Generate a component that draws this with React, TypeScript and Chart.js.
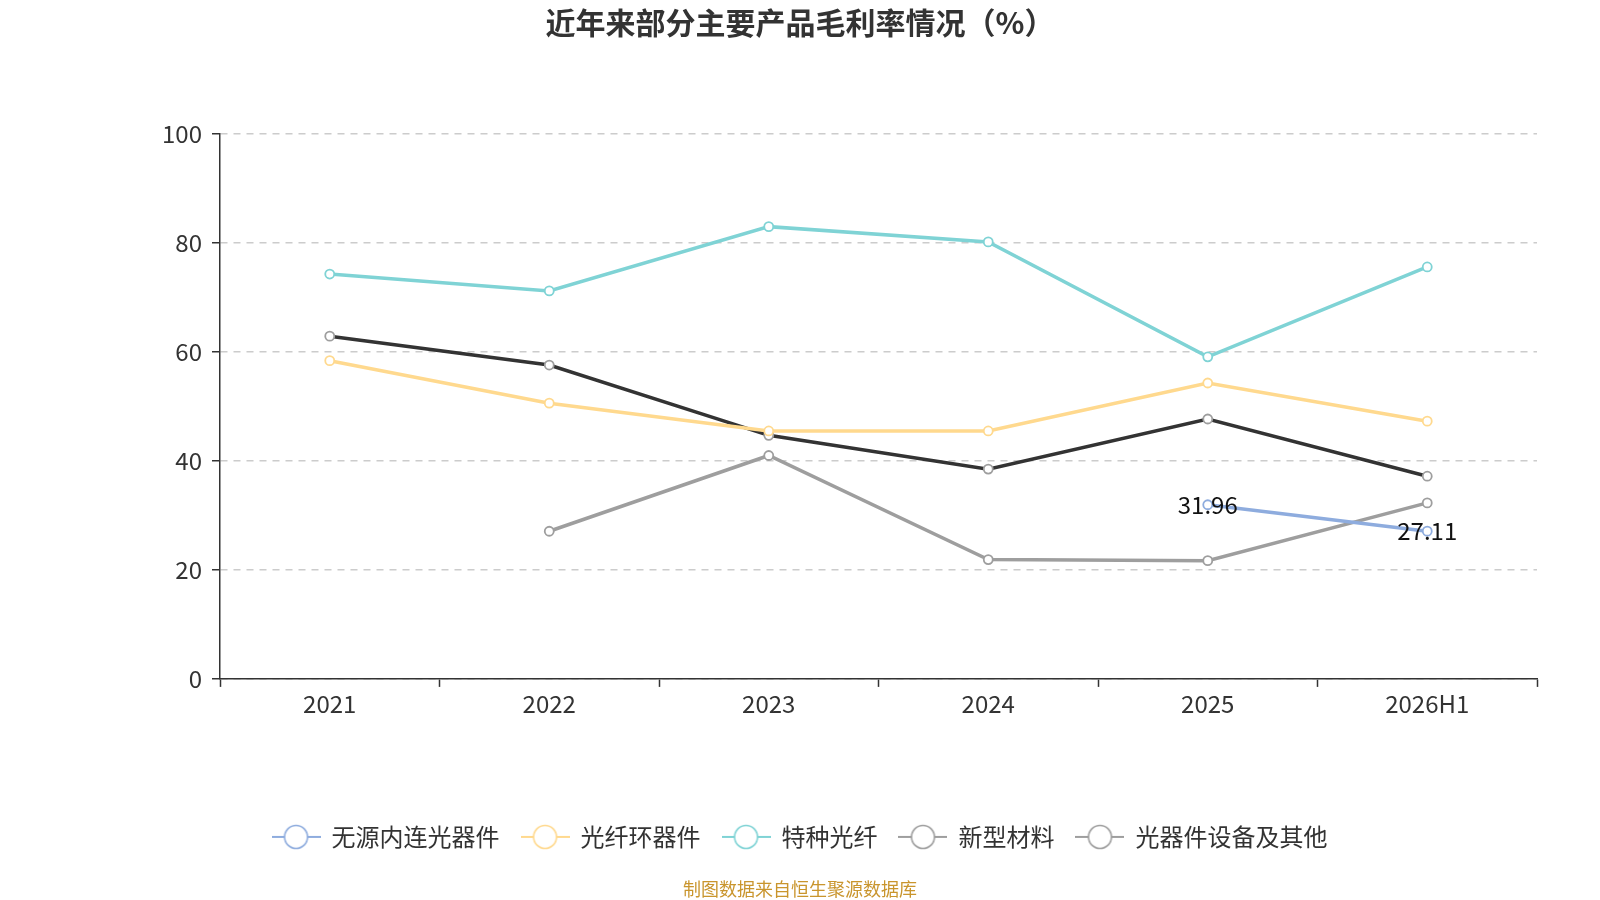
import React, { useEffect, useRef } from 'react';
import { Chart, registerables, ChartConfiguration, ChartItem } from 'chart.js';
Chart.register(...registerables);

const FONT = '"Noto Sans CJK SC", "Noto Sans", sans-serif';

const categories = ['2021', '2022', '2023', '2024', '2025', '2026H1'];
const seriesNames = ['无源内连光器件', '光纤环器件', '特种光纤', '新型材料', '光器件设备及其他'];

const passiveValues = [null, null, null, null, 31.96, 27.11];
const fiberRingValues = [58.4, 50.6, 45.5, 45.5, 54.3, 47.3];
const specialFiberValues = [74.3, 71.2, 83.0, 80.2, 59.1, 75.6];
const newMaterialValues = [62.9, 57.6, 44.7, 38.5, 47.7, 37.2];
const equipmentValues = [null, 27.1, 41.0, 21.9, 21.7, 32.3];

const yTicks = [0, 20, 40, 60, 80, 100];

const lineColors = ['#8eacde', '#ffd98e', '#7fd3d5', '#333333', '#9e9e9e'];
const pointColors = ['#8eacde', '#ffd98e', '#7fd3d5', '#9e9e9e', '#9e9e9e'];

const makeLegendIcon = (color: string) => {
  const c = document.createElement('canvas');
  c.width = 49;
  c.height = 28;
  const g = c.getContext('2d')!;
  g.strokeStyle = color;
  g.lineWidth = 2;
  g.beginPath();
  g.moveTo(0, 14);
  g.lineTo(49, 14);
  g.stroke();
  g.beginPath();
  g.arc(24.5, 14, 11.5, 0, Math.PI * 2);
  g.fillStyle = '#fff';
  g.fill();
  g.lineWidth = 1.6;
  g.stroke();
  return c;
};

const valueLabels = {
  id: 'valueLabels',
  afterDatasetsDraw(chart: Chart) {
    const ctx = chart.ctx;
    const meta = chart.getDatasetMeta(0);
    const data = chart.data.datasets[0].data as (number | null)[];
    ctx.save();
    ctx.font = `24px ${FONT}`;
    ctx.fillStyle = '#111';
    ctx.textAlign = 'center';
    ctx.textBaseline = 'middle';
    meta.data.forEach((pt, i) => {
      const v = data[i];
      if (v == null) return;
      ctx.fillText(v.toFixed(2), pt.x, pt.y);
    });
    ctx.restore();
  },
};

const App: React.FC = () => {
  const canvasRef = useRef<HTMLCanvasElement>(null);
  const chartRef = useRef<Chart | null>(null);

  useEffect(() => {
    if (!canvasRef.current) return;
    const ctx = canvasRef.current.getContext('2d');
    if (!ctx) return;
    if (chartRef.current) chartRef.current.destroy();

    const allValues = [passiveValues, fiberRingValues, specialFiberValues, newMaterialValues, equipmentValues];
    const icons = pointColors.map(makeLegendIcon);

    const config: ChartConfiguration = {
      type: 'line',
      data: {
        labels: categories,
        datasets: allValues.map((vals, i) => ({
          label: seriesNames[i],
          data: vals as any,
          borderColor: lineColors[i],
          backgroundColor: '#fff',
          pointBorderColor: pointColors[i],
          pointBackgroundColor: '#fff',
          pointRadius: 4.5,
          pointBorderWidth: 1.8,
          borderWidth: 3.5,
          tension: 0,
          spanGaps: false,
        })),
      },
      options: {
        animation: false,
        responsive: false,
        devicePixelRatio: 1,
        layout: { padding: 0 },
        scales: {
          x: {
            offset: true,
            afterFit: (scale: any) => {
              scale.height = 124;
            },
            grid: {
              offset: true,
              drawOnChartArea: false,
              tickLength: 8,
              tickColor: '#333',
              tickWidth: 1.5,
            },
            border: { color: '#333', width: 1.5 },
            ticks: { color: '#333', font: { family: FONT, size: 24 }, padding: 3 },
          },
          y: {
            min: 0,
            max: 100,
            afterFit: (scale: any) => {
              scale.width = 220;
            },
            afterBuildTicks: (scale: any) => {
              scale.ticks = yTicks.map((v) => ({ value: v }));
            },
            grid: {
              color: '#cccccc',
              lineWidth: 1.5,
              tickLength: 8,
              tickColor: '#333',
              tickWidth: 1.5,
            },
            border: { color: '#333', width: 1.5, dash: [7, 6] },
            ticks: { color: '#333', font: { family: FONT, size: 24 }, padding: 10 },
          },
          yRight: {
            position: 'right',
            display: true,
            afterFit: (scale: any) => {
              scale.width = 63;
            },
            grid: { display: false },
            border: { display: false },
            ticks: { display: false },
          },
        },
        plugins: {
          title: {
            display: true,
            text: '近年来部分主要产品毛利率情况（%）',
            color: '#333',
            font: { family: FONT, size: 30, weight: 'bold' },
            padding: { top: 4.5, bottom: 93.5 },
          },
          subtitle: {
            display: true,
            position: 'bottom',
            text: '制图数据来自恒生聚源数据库',
            color: '#c9952d',
            font: { family: FONT, size: 18 },
            padding: { top: 19.5, bottom: 0 },
          },
          legend: {
            position: 'bottom',
            labels: {
              usePointStyle: true,
              pointStyleWidth: 47,
              padding: 22,
              color: '#333',
              font: { family: FONT, size: 24 },
              generateLabels: (chart: Chart) =>
                chart.data.datasets.map((ds, i) => ({
                  text: ds.label as string,
                  pointStyle: icons[i] as any,
                  fillStyle: '#fff',
                  strokeStyle: pointColors[i],
                  lineWidth: 0,
                  hidden: false,
                  datasetIndex: i,
                  fontColor: '#333',
                })),
            },
          },
          tooltip: { enabled: false },
        },
      },
      plugins: [valueLabels],
    };

    chartRef.current = new Chart(ctx as ChartItem, config);
    return () => {
      if (chartRef.current) chartRef.current.destroy();
    };
  }, []);

  return (
    <div style={{ position: 'absolute', left: 0, top: 0, width: 1600, height: 900, overflow: 'hidden', background: '#fff' }}>
      <canvas ref={canvasRef} width={1600} height={900} style={{ display: 'block', width: 1600, height: 900 }}></canvas>
    </div>
  );
};

export default App;
